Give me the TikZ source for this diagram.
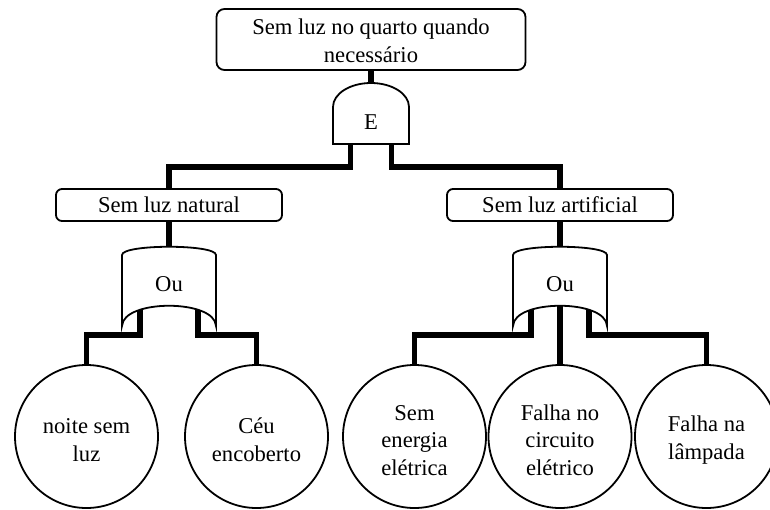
\documentclass[tikz,border=0pt]{standalone}
\usepackage{fontspec}
\setmainfont{Liberation Serif}
% invisible strut that lowers the first text line of a node
\newcommand{\lowerby}[1]{\rule{0pt}{\dimexpr15.5pt+2\dimexpr#1\relax\relax}}
\begin{document}
\begin{tikzpicture}[x=1pt,y=-1pt,
  every node/.style={font=\fontsize{22.6}{28}\selectfont},
  wire/.style={line width=5.5pt},
  gateline/.style={draw, line width=1.8pt, fill=white},
  eventbox/.style={draw, line width=1.8pt, fill=white, align=center, inner sep=0pt},
  basic/.style={draw, circle, line width=1.8pt, fill=white, minimum size=143pt, inner sep=0pt,
    align=center, font=\fontsize{22.6}{27.5}\selectfont},
  orgate/.pic={\path[gateline] (-47,-30) .. controls (-47,-41) and (47,-41) .. (47,-30)
      -- (47,41) .. controls (46,14) and (-46,14) .. (-47,41) -- cycle;}
]
\useasboundingbox (0,0) rectangle (770,509);
\clip (0,0) rectangle (770,509);

% events
\node[eventbox, rounded corners=8pt, minimum width=309pt, minimum height=61pt] (top) at (371,39.5)
  {\lowerby{1.5pt}Sem luz no quarto quando\\necessário};
\node[eventbox, rounded corners=6pt, minimum width=226pt, minimum height=32pt] (nat) at (169,205)
  {Sem luz natural};
\node[eventbox, rounded corners=6pt, minimum width=226pt, minimum height=32pt] (art) at (560,205)
  {Sem luz artificial};

% basic events
\node[basic] (c1) at (86.5,436.5) {\lowerby{3.5pt}noite sem\\luz};
\node[basic] (c2) at (256.5,436.5) {\lowerby{3.5pt}Céu\\encoberto};
\node[basic] (c3) at (414.5,436.5) {\lowerby{3.5pt}Sem\\energia\\elétrica};
\node[basic] (c4) at (560,436.5) {\lowerby{3.5pt}Falha no\\circuito\\elétrico};
\node[basic] (c5) at (706.5,436.5) {\lowerby{3.5pt}Falha na\\lâmpada};

% gate pins
\coordinate (andIn) at (371,83);
\coordinate (andL) at (350.5,144);
\coordinate (andR) at (391.5,144);
\coordinate (orNin) at (169,247);
\coordinate (orNa) at (140,300);
\coordinate (orNb) at (198,300);
\coordinate (orAin) at (560,247);
\coordinate (orAa) at (531,300);
\coordinate (orAb) at (560,300);
\coordinate (orAc) at (589,300);

% connectors
\draw[wire] (top.south) -- (andIn);
\draw[wire] (andL) -- ++(0,23) -| (nat.north);
\draw[wire] (andR) -- ++(0,23) -| (art.north);
\draw[wire] (nat.south) -- (orNin);
\draw[wire] (art.south) -- (orAin);
\draw[wire] (orNa) -- ++(0,35) -| (c1.north);
\draw[wire] (orNb) -- ++(0,35) -| (c2.north);
\draw[wire] (orAa) -- ++(0,35) -| (c3.north);
\draw[wire] (orAb) -- (c4.north);
\draw[wire] (orAc) -- ++(0,35) -| (c5.north);

% AND gate
\path[gateline] (333,144) -- (333,107) .. controls (333,93.7) and (350,83) .. (371,83)
  .. controls (392,83) and (409,93.7) .. (409,107) -- (409,144) -- cycle;
\node[inner sep=0pt] (andLbl) at (371,122.5) {E};

% OR gates
\pic at (169,285) {orgate};
\node[inner sep=0pt] (orNlbl) at (169,284) {Ou};
\pic at (560,285) {orgate};
\node[inner sep=0pt] (orAlbl) at (560,284) {Ou};
\end{tikzpicture}
\end{document}
